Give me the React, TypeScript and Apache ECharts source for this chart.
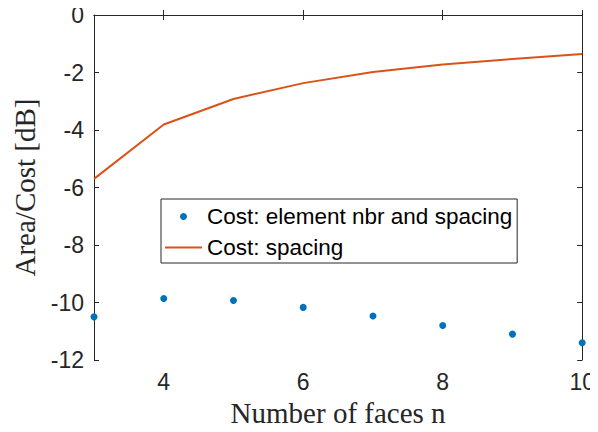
import React, { useEffect, useRef } from "react";
import * as echarts from "echarts";

const faces = [3, 4, 5, 6, 7, 8, 9, 10];
const costElementSpacing = [-10.5, -9.86, -9.93, -10.17, -10.47, -10.8, -11.1, -11.4];
const costSpacing = [-5.7, -3.81, -2.92, -2.37, -1.98, -1.72, -1.53, -1.36];
const xTicks = [4, 6, 8, 10];
const seriesNames = ["Cost: element nbr and spacing", "Cost: spacing"];

const AX = "#262626";
const BLUE = "#0072BD";
const ORANGE = "#D95319";

export default function App() {
  const ref = useRef<HTMLDivElement>(null);
  useEffect(() => {
    if (!ref.current) return;
    const chart = echarts.init(ref.current, undefined, { renderer: "svg" });
    const tickFont = { fontFamily: "Liberation Sans, Arial, sans-serif", fontSize: 23, color: AX };
    const nameFont = { fontFamily: "Liberation Serif, Times New Roman, serif", fontSize: 29, color: AX };
    const axisLine = { show: true, lineStyle: { color: AX, width: 1 } };
    chart.setOption({
      animation: false,
      backgroundColor: "#ffffff",
      grid: { left: 94, right: 11, top: 15, bottom: 71 },
      legend: {
        orient: "vertical",
        left: 161,
        top: 199,
        padding: [6, 5, 4, 4],
        borderColor: AX,
        borderWidth: 1,
        backgroundColor: "#ffffff",
        itemWidth: 37,
        itemHeight: 7,
        itemGap: 8,
        textStyle: { fontFamily: "Liberation Sans, Arial, sans-serif", fontSize: 22.5, color: "#000", lineHeight: 22 },
        data: [
          { name: seriesNames[0], icon: "circle", itemStyle: { color: BLUE, opacity: 1 } },
          {
            name: seriesNames[1],
            icon: "path://M0,0 M0,7 M0,2.5 L37,2.5 L37,4.5 L0,4.5 Z",
            itemStyle: { color: ORANGE, opacity: 1 },
          },
        ],
      },
      xAxis: [
        {
          type: "value",
          min: 3,
          max: 10,
          position: "bottom",
          name: "Number of faces n",
          nameLocation: "middle",
          nameGap: 38,
          nameTextStyle: nameFont,
          axisLine,
          axisTick: { show: true, inside: true, length: 5, lineStyle: { color: AX }, customValues: xTicks },
          axisLabel: { ...tickFont, margin: 10, customValues: xTicks },
          splitLine: { show: false },
        },
        {
          type: "value",
          min: 3,
          max: 10,
          position: "top",
          axisLine,
          axisTick: { show: true, inside: true, length: 5, lineStyle: { color: AX }, customValues: xTicks },
          axisLabel: { show: false },
          splitLine: { show: false },
        },
      ],
      yAxis: [
        {
          type: "value",
          min: -12,
          max: 0,
          interval: 2,
          position: "left",
          name: "Area/Cost [dB]",
          nameLocation: "middle",
          nameGap: 52,
          nameTextStyle: nameFont,
          axisLine,
          axisTick: { show: true, inside: true, length: 5, lineStyle: { color: AX } },
          axisLabel: { ...tickFont, margin: 10 },
          splitLine: { show: false },
        },
        {
          type: "value",
          min: -12,
          max: 0,
          interval: 2,
          position: "right",
          axisLine,
          axisTick: { show: true, inside: true, length: 5, lineStyle: { color: AX } },
          axisLabel: { show: false },
          splitLine: { show: false },
        },
      ],
      series: [
        {
          name: seriesNames[0],
          type: "scatter",
          symbol: "circle",
          symbolSize: 7,
          itemStyle: { color: BLUE, opacity: 1 },
          data: faces.map((f, i) => [f, costElementSpacing[i]]),
        },
        {
          name: seriesNames[1],
          type: "line",
          symbol: "none",
          showSymbol: false,
          lineStyle: { color: ORANGE, width: 2 },
          itemStyle: { color: ORANGE },
          data: faces.map((f, i) => [f, costSpacing[i]]),
        },
      ],
    });
    return () => chart.dispose();
  }, []);
  return <div ref={ref} style={{ width: 598, height: 432, margin: -8 }} />;
}
